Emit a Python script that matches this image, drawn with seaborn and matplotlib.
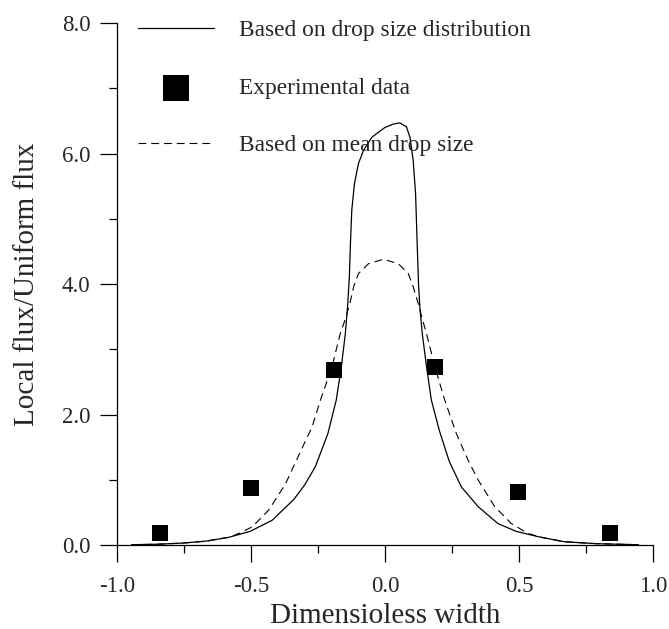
import numpy as np
import pandas as pd
import matplotlib
matplotlib.use("Agg")
import matplotlib.pyplot as plt
from matplotlib.ticker import FormatStrFormatter, MultipleLocator
import seaborn as sns

sns.set_style("ticks")
plt.rcParams["font.family"] = ["Liberation Serif", "DejaVu Serif"]

# Based on drop size distribution (solid)
x_dist = [-0.946, -0.85, -0.755, -0.667, -0.581, -0.503, -0.421, -0.34, -0.30, -0.26,
          -0.213, -0.182, -0.163, -0.148, -0.139, -0.133, -0.129, -0.124, -0.114, -0.099,
          -0.080, -0.049, 0.0, 0.030, 0.055, 0.080, 0.093, 0.105, 0.114, 0.120,
          0.125, 0.130, 0.139, 0.155, 0.173, 0.203, 0.240, 0.285, 0.347, 0.421,
          0.489, 0.569, 0.669, 0.792, 0.946]
y_dist = [0.005, 0.012, 0.03, 0.06, 0.12, 0.21, 0.38, 0.70, 0.92, 1.20,
          1.71, 2.22, 2.73, 3.24, 3.70, 4.11, 4.62, 5.13, 5.54, 5.85,
          6.05, 6.25, 6.40, 6.45, 6.47, 6.41, 6.25, 5.90, 5.39, 4.62,
          4.00, 3.65, 3.24, 2.73, 2.22, 1.75, 1.28, 0.89, 0.59, 0.33,
          0.21, 0.13, 0.05, 0.02, 0.005]

# Based on mean drop size (dashed)
x_mean = [-0.946, -0.85, -0.755, -0.667, -0.581, -0.544, -0.495, -0.433, -0.371, -0.31,
          -0.272, -0.241, -0.198, -0.167, -0.145, -0.130, -0.117, -0.099, -0.062, -0.006,
          0.050, 0.087, 0.105, 0.124, 0.140, 0.155, 0.186, 0.223, 0.266, 0.310,
          0.347, 0.409, 0.471, 0.532, 0.581, 0.669, 0.792, 0.946]
y_mean = [0.005, 0.012, 0.03, 0.06, 0.12, 0.18, 0.28, 0.54, 0.94, 1.48,
          1.81, 2.22, 2.73, 3.24, 3.50, 3.72, 3.96, 4.16, 4.31, 4.38,
          4.31, 4.16, 3.96, 3.70, 3.45, 3.24, 2.73, 2.22, 1.71, 1.30,
          1.00, 0.59, 0.33, 0.18, 0.12, 0.05, 0.02, 0.005]

# Experimental data
x_exp = [-0.84, -0.50, -0.19, 0.185, 0.495, 0.84]
y_exp = [0.19, 0.88, 2.68, 2.73, 0.81, 0.18]

df_dist = pd.DataFrame({"x": x_dist, "y": y_dist})
df_mean = pd.DataFrame({"x": x_mean, "y": y_mean})
df_exp = pd.DataFrame({"x": x_exp, "y": y_exp})

fig = plt.figure(figsize=(6.69, 6.29), dpi=100)
ax = fig.add_axes([0.1749, 0.1335, 0.8012, 0.8299])

sns.lineplot(data=df_dist, x="x", y="y", color="black", linewidth=0.9,
             estimator=None, label="Based on drop size distribution", ax=ax)
sns.scatterplot(data=df_exp, x="x", y="y", marker="s", s=117, color="black",
                edgecolor="black", linewidth=0, label="Experimental data", ax=ax, zorder=3)
sns.lineplot(data=df_mean, x="x", y="y", color="black", linewidth=0.8,
             linestyle=(0, (7, 4.5)), estimator=None,
             label="Based on mean drop size", ax=ax)

ax.set_xlim(-1.0, 1.0)
ax.set_ylim(0.0, 8.0)
ax.xaxis.set_major_locator(MultipleLocator(0.5))
ax.xaxis.set_minor_locator(MultipleLocator(0.25))
ax.yaxis.set_major_locator(MultipleLocator(2.0))
ax.yaxis.set_minor_locator(MultipleLocator(1.0))
ax.xaxis.set_major_formatter(FormatStrFormatter("%.1f"))
ax.yaxis.set_major_formatter(FormatStrFormatter("%.1f"))

sns.despine(ax=ax)
for sp in ["left", "bottom"]:
    ax.spines[sp].set_linewidth(0.9)
    ax.spines[sp].set_color("black")
ax.tick_params(axis="both", which="major", direction="out", length=12, width=0.9,
               labelsize=16.5, color="black")
ax.tick_params(axis="both", which="minor", direction="out", length=5.5, width=0.9,
               color="black")
ax.tick_params(axis="x", which="major", pad=10.5)
ax.tick_params(axis="y", which="major", pad=7)

ax.set_xlabel("Dimensioless width", fontsize=21, labelpad=4)
ax.set_ylabel("Local flux/Uniform flux", fontsize=21, labelpad=16)

handles, labels = ax.get_legend_handles_labels()
order = ["Based on drop size distribution", "Experimental data", "Based on mean drop size"]
hmap = dict(zip(labels, handles))
ax.legend([hmap[k] for k in order], order, loc="upper left",
          bbox_to_anchor=(0.039, 1.006), frameon=False, fontsize=16.8,
          handlelength=3.26, handletextpad=1.07, labelspacing=1.55,
          borderpad=0, borderaxespad=0, markerscale=1.75, scatterpoints=1)

fig.savefig("out.png", dpi=100)
